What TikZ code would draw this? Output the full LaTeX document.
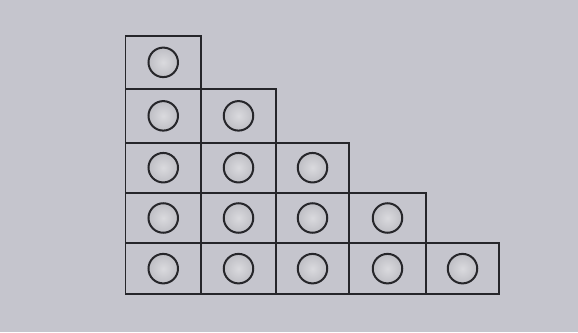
\documentclass[tikz,border=0pt]{standalone}
\definecolor{bg}{RGB}{197,197,205}
\definecolor{ink}{RGB}{38,38,42}
\definecolor{dotin}{RGB}{218,218,222}
\definecolor{dotout}{RGB}{190,190,196}
\tikzset{
  cell/.style={draw=ink, line width=1.8pt},
  ball/.style={circle, draw=ink, line width=2pt, minimum size=29.5pt, inner sep=0pt,
    inner color=dotin, outer color=dotout}
}
\begin{document}
\begin{tikzpicture}[x=1pt,y=-1pt]
\fill[bg] (0,0) rectangle (578,332);
\useasboundingbox (0,0) rectangle (578,332);
\foreach \r/\ya/\yb in {1/35.7/89,2/89/142.7,3/142.7/192.7,4/192.7/243.3,5/243.3/294}{
  \foreach \c/\xa/\xb in {1/125.5/201,2/201/276,3/276/349,4/349/426,5/426/499}{
    \ifnum\c>\r\relax\else
      \draw[cell] (\xa,\ya) rectangle (\xb,\yb);
      \node[ball] (ball-\r-\c) at ({(\xa+\xb)/2},{(\ya+\yb)/2}) {};
    \fi
  }
}
\end{tikzpicture}
\end{document}
